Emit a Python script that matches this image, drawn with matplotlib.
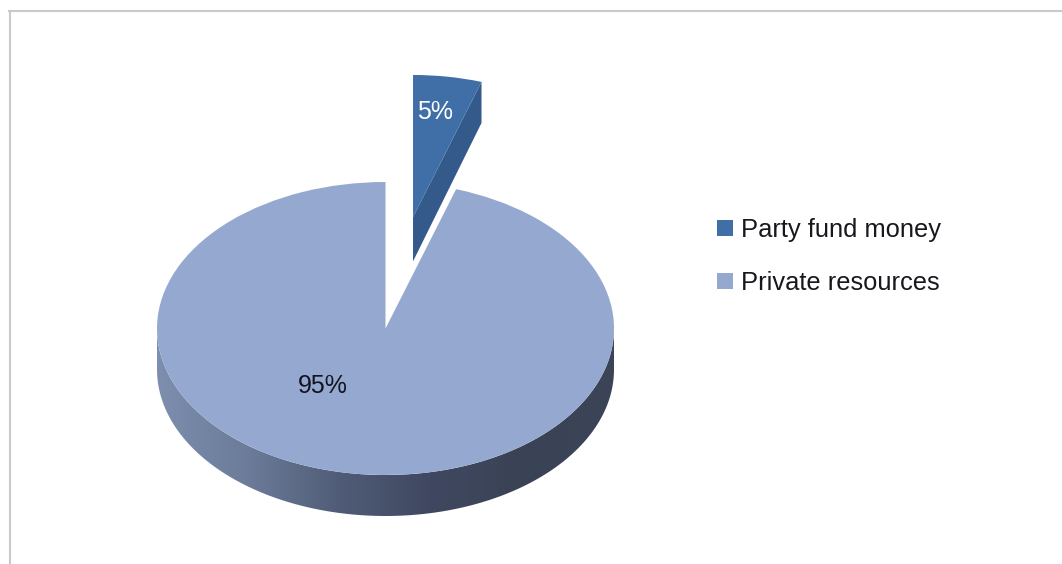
import numpy as np
import matplotlib
matplotlib.use("Agg")
import matplotlib.pyplot as plt
from matplotlib.colors import LinearSegmentedColormap
from matplotlib.lines import Line2D
from matplotlib.patches import Polygon

labels = ["Party fund money", "Private resources"]
shares = [5, 95]
share_text = ["5%", "95%"]
explode = [0.77, 0]

top_colours = ["#3f6fa6", "#95a9d0"]
cut_colour = "#345a8b"
rim_colours = ["#7d8eae", "#6b7b99", "#505c77", "#3f4860", "#3a4355", "#3c4558"]

plt.rcParams["font.family"] = ["Liberation Sans", "DejaVu Sans"]

W, H = 1062, 564
CX, CY = 385.5, 328.5  # pie centre in pixels from the top left
RX, RY = 228.5, 146.5  # squashed radii of the tilted pie
DEPTH = 41 / RY


def px(x, y):
    """Pixel position to pie units."""
    return (x - CX) / RX, (CY - y) / RY


fig = plt.figure(figsize=(W / 100, H / 100), dpi=100, facecolor="white")
ax = fig.add_axes([0, 0, 1, 1])

wedges, _ = ax.pie(shares, explode=explode, colors=top_colours, startangle=90,
                   counterclock=False, radius=1, frame=False)
wedges[0].set_radius(0.97)
for w in wedges:
    w.set_zorder(3)
    w.set_linewidth(0)

ax.set_aspect("auto")
x0, y1 = px(0, 0)
x1, y0 = px(W, H)

# rim of the big slice, a horizontal gradient clipped to the lower half of the disc
t = np.radians(np.linspace(180, 360, 200))
rim_x = np.cos(t)
rim_y = np.sin(t)
rim = np.r_[np.c_[rim_x, rim_y - DEPTH], np.c_[rim_x[::-1], rim_y[::-1]]]
rim_patch = Polygon(rim, closed=True, facecolor="none", edgecolor="none", transform=ax.transData)
ax.add_patch(rim_patch)
cmap = LinearSegmentedColormap.from_list("rim", rim_colours)
img = ax.imshow(np.linspace(0, 1, 256)[None, :], cmap=cmap, aspect="auto", zorder=1,
                extent=(-1, 1, -1 - DEPTH, 0))
img.set_clip_path(rim_patch)

# cut face of the pulled out slice
cx, cy = wedges[0].center
r = wedges[0].r
edge = np.radians(90 - 360 * shares[0] / sum(shares))
ex, ey = cx + r * np.cos(edge), cy + r * np.sin(edge)
ax.add_patch(Polygon([(cx, cy), (ex, ey), (ex, ey - DEPTH), (cx, cy - DEPTH * 1.08)],
                     closed=True, facecolor=cut_colour, edgecolor="none", zorder=2))

ax.set_xlim(x0, x1)
ax.set_ylim(y0, y1)
ax.axis("off")

ax.text(*px(435.5, 112), share_text[0], color="white", fontsize=18, ha="center", va="center", zorder=5)
ax.text(*px(322.5, 386), share_text[1], color="#12151f", fontsize=18, ha="center", va="center", zorder=5)

handles = [Line2D([], [], linestyle="none", marker="s", markersize=11.5, markeredgewidth=0, color=c)
           for c in top_colours]
ax.legend(handles, labels, loc="center left", bbox_to_anchor=(699 / W, 1 - 256.5 / H),
          bbox_transform=fig.transFigure, frameon=False, fontsize=18.4, labelspacing=1.15,
          handlelength=1.0, handletextpad=0.15, borderpad=0, labelcolor="#16181d")

# thin grey frame, open on the right and bottom
frame = "#c9c9c9"
fig.add_artist(Line2D([9.5 / W, 9.5 / W], [0, 1 - 11 / H], color=frame, lw=1.5))
fig.add_artist(Line2D([9 / W, 1], [1 - 11 / H, 1 - 11 / H], color=frame, lw=1.5))

fig.savefig("out.png", dpi=100, facecolor="white")
